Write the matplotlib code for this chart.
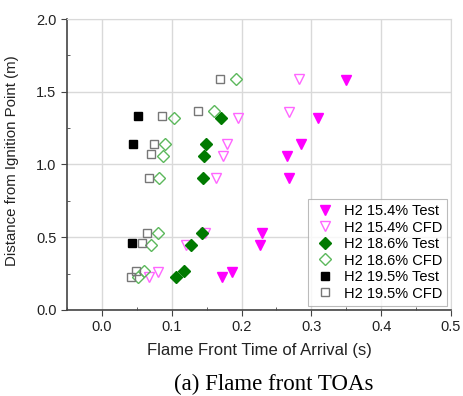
"""
Flame front time of arrival vs distance from ignition point.
Writes: out.png
"""

import matplotlib
matplotlib.use("Agg")
import matplotlib.pyplot as plt
from matplotlib.ticker import MultipleLocator, FormatStrFormatter

plt.rcParams.update({
    "font.family": "sans-serif",
    "font.sans-serif": ["Liberation Sans", "DejaVu Sans"],
    "font.size": 10.5,
})

# H2 15.4%
t154_test = [0.350, 0.310, 0.285, 0.265, 0.268, 0.230, 0.227, 0.187, 0.172]
d154_test = [1.58, 1.32, 1.14, 1.06, 0.91, 0.53, 0.45, 0.26, 0.23]
t154_cfd = [0.283, 0.268, 0.195, 0.179, 0.173, 0.163, 0.147, 0.120, 0.080, 0.068]
d154_cfd = [1.59, 1.36, 1.32, 1.14, 1.06, 0.91, 0.53, 0.45, 0.26, 0.23]

# H2 18.6%
t186_test = [0.171, 0.149, 0.146, 0.145, 0.144, 0.128, 0.117, 0.106]
d186_test = [1.32, 1.14, 1.06, 0.91, 0.53, 0.45, 0.27, 0.23]
t186_cfd = [0.192, 0.161, 0.103, 0.091, 0.088, 0.082, 0.080, 0.070, 0.061, 0.052]
d186_cfd = [1.59, 1.37, 1.32, 1.14, 1.06, 0.91, 0.53, 0.45, 0.27, 0.23]

# H2 19.5%
t195_test = [0.052, 0.045, 0.043]
d195_test = [1.33, 1.14, 0.46]
t195_cfd = [0.169, 0.138, 0.086, 0.075, 0.071, 0.067, 0.064, 0.057, 0.049, 0.041]
d195_cfd = [1.59, 1.37, 1.33, 1.14, 1.07, 0.91, 0.53, 0.46, 0.27, 0.23]

fig = plt.figure(figsize=(4.63, 3.96), dpi=100)
ax = fig.add_axes([0.1447, 0.2172, 0.8293, 0.7348])

series = [
    (t154_test, d154_test, "H2 15.4% Test", dict(marker="v", ms=7.5, mfc="#ff00ff", mec="#ff00ff")),
    (t154_cfd, d154_cfd, "H2 15.4% CFD", dict(marker="v", ms=7.5, mfc="none", mec="#ff66ff", mew=1.0)),
    (t186_test, d186_test, "H2 18.6% Test", dict(marker="D", ms=6.5, mfc="#007a00", mec="#007a00")),
    (t186_cfd, d186_cfd, "H2 18.6% CFD", dict(marker="D", ms=6.5, mfc="none", mec="#5cb85c", mew=1.0)),
    (t195_test, d195_test, "H2 19.5% Test", dict(marker="s", ms=5.5, mfc="black", mec="black")),
    (t195_cfd, d195_cfd, "H2 19.5% CFD", dict(marker="s", ms=5.5, mfc="none", mec="#777777", mew=1.0)),
]
for t, d, lab, st in series:
    ax.plot(t, d, linestyle="none", label=lab, **st)

ax.set_xlim(-0.05, 0.5)
ax.set_ylim(0.0, 2.0)
ax.xaxis.set_major_locator(MultipleLocator(0.1))
ax.xaxis.set_minor_locator(MultipleLocator(0.05))
ax.yaxis.set_major_locator(MultipleLocator(0.5))
ax.yaxis.set_minor_locator(MultipleLocator(0.25))
ax.xaxis.set_major_formatter(FormatStrFormatter("%.1f"))
ax.yaxis.set_major_formatter(FormatStrFormatter("%.1f"))

ax.grid(True, which="major", color="#d9d9d9", linewidth=1.0)
ax.set_axisbelow(True)
for side in ["top", "right"]:
    ax.spines[side].set_color("#d9d9d9")
for side in ["left", "bottom"]:
    ax.spines[side].set_color("#444444")
    ax.spines[side].set_linewidth(1.2)
ax.tick_params(which="major", direction="out", length=4, color="#444444",
               labelcolor="#222222", labelsize=10.5, top=False, right=False)
ax.tick_params(which="minor", direction="in", length=2.5, color="#444444",
               top=False, right=False)

ax.set_xlabel("Flame Front Time of Arrival (s)", fontsize=12, color="#222222")
ax.set_ylabel("Distance from Ignition Point (m)", fontsize=10.8, color="#222222")
ax.xaxis.set_label_coords(0.501, -0.115)
ax.yaxis.set_label_coords(-0.125, 0.515)

leg = ax.legend(loc="lower right", frameon=True, fancybox=False, fontsize=10.5,
                handletextpad=0.5, borderpad=0.35, labelspacing=0.17,
                handlelength=1.6, borderaxespad=0.0,
                bbox_to_anchor=(0.99, 0.015))
leg.get_frame().set_edgecolor("#aaaaaa")
leg.get_frame().set_linewidth(0.8)

fig.text(0.592, 0.028, "(a) Flame front TOAs", ha="center", va="center",
         family="Liberation Serif", fontsize=16.5)

fig.savefig("out.png", dpi=100)
